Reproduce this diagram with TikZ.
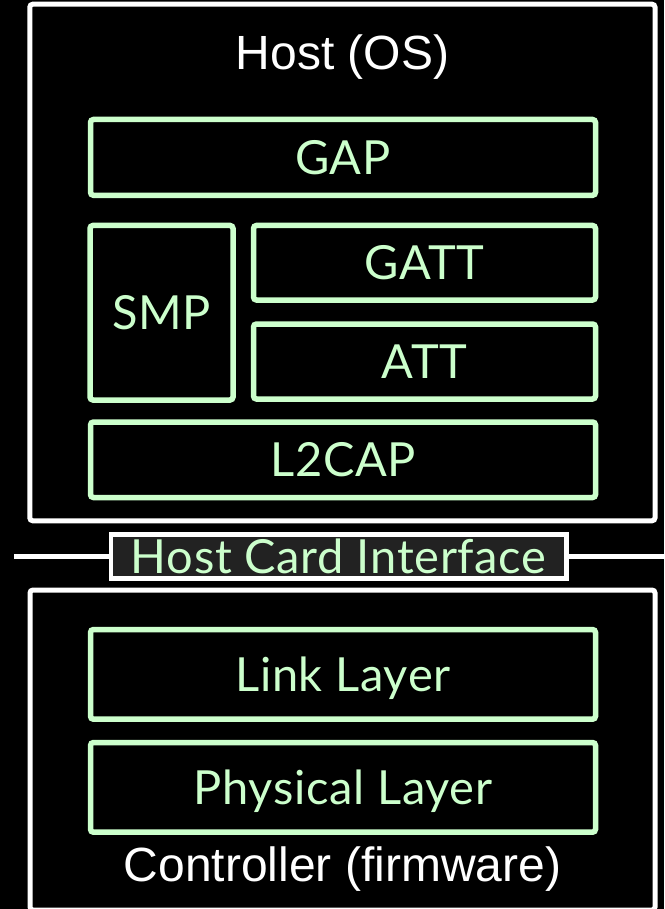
\documentclass[tikz,border=0pt]{standalone}
\usepackage{fontspec}
\setmainfont{Liberation Sans}
\newfontfamily\greenfont[LetterSpace=1.5]{Lato}
\definecolor{lgreen}{HTML}{CCFFCC}
\definecolor{lblfill}{HTML}{222222}
\begin{document}
\begin{tikzpicture}[x=1pt,y=-1pt,
  hostbox/.style={draw=white, line width=5pt, rounded corners=3pt, inner sep=0pt},
  gbox/.style={draw=lgreen, line width=5.5pt, rounded corners=3pt, inner sep=0pt,
    text=lgreen, font=\greenfont\fontsize{47}{56}\selectfont, text height=33.5pt, text depth=0pt},
  wtitle/.style={text=white, font=\fontsize{48}{58}\selectfont, inner sep=0pt, anchor=base},
  lbl/.style={draw=white, fill=lblfill, line width=4.5pt, inner sep=0pt,
    text=lgreen, font=\greenfont\fontsize{47}{56}\selectfont, text height=33.5pt, text depth=0pt},
  wline/.style={draw=white, line width=5.5pt}]
\fill[black] (0,0) rectangle (664,909);
\useasboundingbox (0,0) rectangle (664,909);
% Host
\node[hostbox, minimum width=625.2pt, minimum height=516.6pt] (host) at (342.4,262.5) {};
\node[wtitle] (hosttitle) at (342.4,69.3) {Host (OS)};
\node[gbox, minimum width=505pt, minimum height=75.8pt] (gap) at (343,157.4) {GAP};
\node[gbox, minimum width=143pt, minimum height=174.5pt] (smp) at (161.5,312.75) {SMP};
\node[gbox, minimum width=342pt, minimum height=74.5pt] (gatt) at (424.5,262.75) {GATT};
\node[gbox, minimum width=342pt, minimum height=75pt] (att) at (424.5,361.5) {ATT};
\node[gbox, minimum width=505pt, minimum height=75.5pt] (l2cap) at (343,459.75) {L2CAP};
% Host card interface
\coordinate (hciL) at (14.3,556.7);
\coordinate (hciR) at (666,556.7);
\node[lbl, minimum width=455.7pt, minimum height=44pt] (hci) at (338.65,556.7) {Host Card Interface};
\draw[wline] (hciL) -- (hci.west);
\draw[wline] (hci.east) -- (hciR);
% Controller
\node[hostbox, minimum width=625pt, minimum height=320pt] (ctrl) at (342.5,750) {};
\node[gbox, minimum width=505pt, minimum height=89.7pt] (ll) at (343,674.35) {Link Layer};
\node[gbox, minimum width=505pt, minimum height=89.7pt] (phy) at (343,787.35) {Physical Layer};
\node[wtitle] (ctrltitle) at (342.5,881.7) {Controller (firmware)};
\end{tikzpicture}
\end{document}
